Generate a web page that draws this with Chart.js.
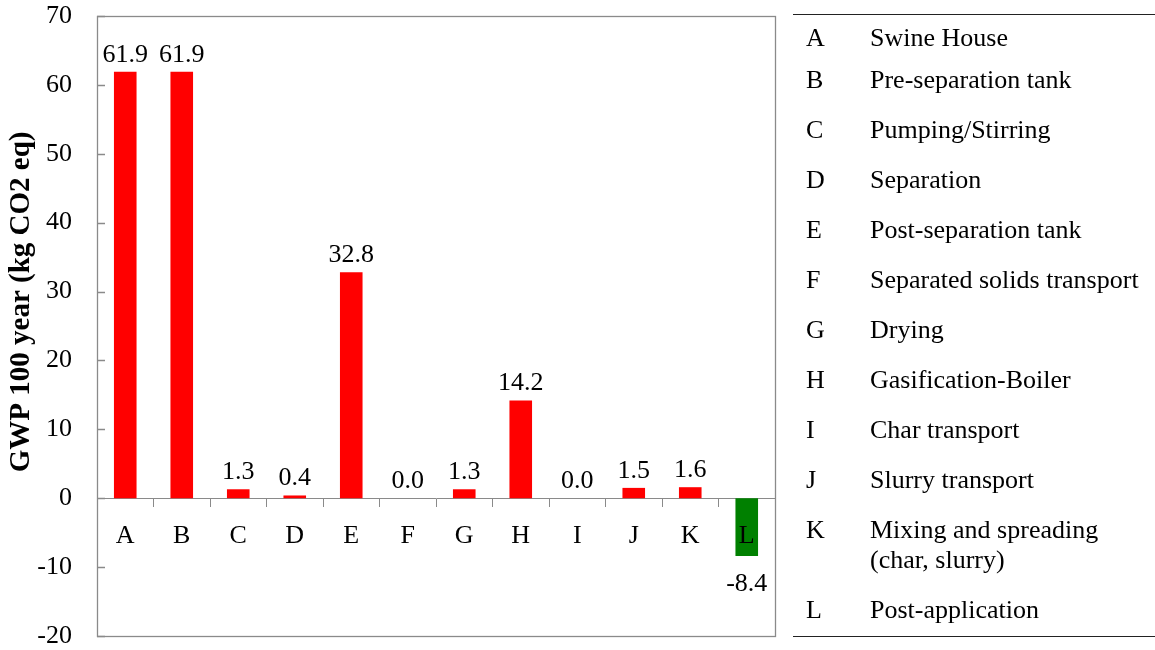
<!DOCTYPE html>
<html>
<head>
<meta charset="utf-8">
<script src="https://cdn.jsdelivr.net/npm/chart.js@4.4.1/dist/chart.umd.min.js"></script>
<style>
    html, body { margin: 0; padding: 0; background: #fff; }
    #wrap { position: relative; width: 1155px; height: 650px; }
    #legend {
        position: absolute; left: 793px; top: 14px; width: 362px;
        border-top: 1.5px solid #222; border-bottom: 1.5px solid #222;
        font-family: 'Liberation Serif', 'Times New Roman', serif; font-size: 26px; color: #000;
        padding-bottom: 1px;
    }
    .row { display: flex; padding: 10px 0; line-height: 30px; }
    .row:first-child { padding: 8px 0 2px 0; }
    .row .key { width: 77px; padding-left: 13px; box-sizing: border-box; }
    .row .name { white-space: pre-line; }
</style>
</head>
<body>
<div id="wrap">
    <canvas id="gwpChart" width="1155" height="650"></canvas>
    <div id="legend"></div>
</div>
<script>
const categories = ['A', 'B', 'C', 'D', 'E', 'F', 'G', 'H', 'I', 'J', 'K', 'L'];
const gwpValues = [61.9, 61.9, 1.3, 0.4, 32.8, 0.0, 1.3, 14.2, 0.0, 1.5, 1.6, -8.4];
const processNames = [
    'Swine House',
    'Pre-separation tank',
    'Pumping/Stirring',
    'Separation',
    'Post-separation tank',
    'Separated solids transport',
    'Drying',
    'Gasification-Boiler',
    'Char transport',
    'Slurry transport',
    'Mixing and spreading\n(char, slurry)',
    'Post-application'
];
const yTicks = [-20, -10, 0, 10, 20, 30, 40, 50, 60, 70];
const yTitle = 'GWP 100 year (kg CO2 eq)';

const serif = "'Liberation Serif', 'Times New Roman', serif";
const axisGray = '#8a8a8a';

// legend table on the right
const legendEl = document.getElementById('legend');
categories.forEach((c, i) => {
    const row = document.createElement('div');
    row.className = 'row';
    row.innerHTML = '<span class="key"></span><span class="name"></span>';
    row.querySelector('.key').textContent = c;
    row.querySelector('.name').textContent = processNames[i];
    legendEl.appendChild(row);
});

// value labels above / below bars
const valueLabels = {
    id: 'valueLabels',
    afterDatasetsDraw(chart) {
        const ctx = chart.ctx;
        const meta = chart.getDatasetMeta(0);
        ctx.save();
        ctx.font = '26px ' + serif;
        ctx.fillStyle = '#000';
        ctx.textAlign = 'center';
        ctx.textBaseline = 'alphabetic';
        meta.data.forEach((bar, i) => {
            const v = gwpValues[i];
            const y = v >= 0 ? bar.y - 10 : bar.y + 35;
            ctx.fillText(v.toFixed(1), bar.x, y);
        });
        ctx.restore();
    }
};

// plot frame, inward y ticks and the rotated axis title
const frame = {
    id: 'frame',
    afterDraw(chart) {
        const { ctx, chartArea: a } = chart;
        const y = chart.scales.y;
        ctx.save();
        ctx.strokeStyle = axisGray;
        ctx.lineWidth = 1.3;
        ctx.strokeRect(Math.round(a.left) + 0.5, Math.round(a.top) + 0.5, Math.round(a.right - a.left), Math.round(a.bottom - a.top));
        ctx.beginPath();
        yTicks.forEach(t => {
            const py = Math.round(y.getPixelForValue(t)) + 0.5;
            ctx.moveTo(a.left, py);
            ctx.lineTo(a.left + 8, py);
        });
        ctx.stroke();

        ctx.translate(22, y.getPixelForValue(28.5));
        ctx.rotate(-Math.PI / 2);
        ctx.font = 'bold 29px ' + serif;
        ctx.fillStyle = '#000';
        ctx.textAlign = 'center';
        ctx.textBaseline = 'middle';
        ctx.fillText(yTitle, 0, 0);
        ctx.restore();
    }
};

new Chart(document.getElementById('gwpChart'), {
    type: 'bar',
    data: {
        labels: categories,
        datasets: [{
            data: gwpValues,
            backgroundColor: gwpValues.map(v => v < 0 ? '#008000' : '#ff0000'),
            barPercentage: 0.4,
            categoryPercentage: 1.0
        }]
    },
    options: {
        responsive: false,
        animation: false,
        layout: { padding: { top: 16, right: 380, bottom: 14, left: 0 } },
        plugins: { legend: { display: false }, tooltip: { enabled: false } },
        scales: {
            x: {
                position: { y: 0 },
                afterFit: (scale) => { scale.height = 0; },
                grid: { drawOnChartArea: false, drawTicks: true, tickLength: 8, color: axisGray, offset: true },
                border: { display: true, color: axisGray, width: 1 },
                ticks: { color: '#000', font: { family: serif, size: 26 }, padding: 14, maxRotation: 0, z: 1 }
            },
            y: {
                min: -20,
                max: 70,
                afterBuildTicks: (scale) => { scale.ticks = yTicks.map(v => ({ value: v })); },
                afterFit: (scale) => {
                    scale.width = 97;
                    scale.paddingTop = 0;
                    scale.paddingBottom = 0;
                },
                grid: { display: false, drawTicks: false },
                border: { display: true, color: axisGray, width: 1 },
                ticks: { color: '#000', font: { family: serif, size: 26 }, padding: 25 }
            }
        }
    },
    plugins: [valueLabels, frame]
});
</script>
</body>
</html>
